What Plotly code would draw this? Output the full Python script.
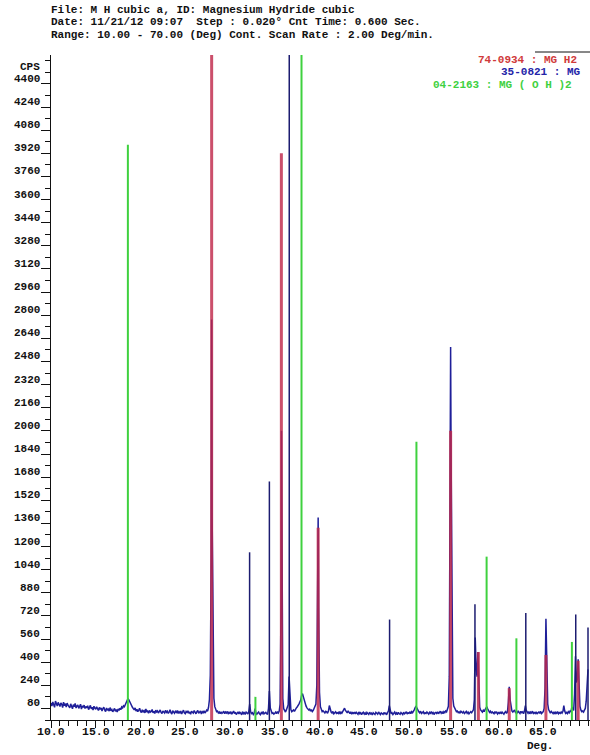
import plotly.graph_objects as go

# ---------------- measured scan (CPS), 10.0 - 70.0 deg, 0.1 deg grid ----------------
scan_start = 10.0
scan_step = 0.1
scan_cps = [
    118, 96, 125, 104, 88, 131, 110, 97, 122, 101,
    93, 119, 108, 86, 124, 99, 113, 90, 117, 102,
    95, 84, 112, 99, 78, 106, 92, 115, 83, 97,
    104, 80, 93, 109, 76, 98, 87, 103, 79, 94,
    85, 99, 72, 90, 101, 77, 88, 69, 95, 82,
    74, 91, 80, 66, 87, 73, 84, 62, 79, 88,
    70, 58, 83, 67, 75, 61, 86, 64, 72, 57,
    68, 80, 60, 73, 55, 77, 66, 82, 71, 90,
    84, 98, 92, 110, 118, 131, 149, 140, 126, 108,
    97, 88, 79, 70, 84, 62, 74, 58, 69, 81,
    60, 52, 71, 57, 64, 49, 76, 55, 62, 47,
    66, 54, 58, 73, 50, 61, 45, 68, 56, 63,
    48, 59, 70, 52, 44, 63, 57, 49, 67, 53,
    61, 46, 55, 71, 50, 42, 64, 58, 47, 60,
    53, 66, 45, 57, 49, 62, 41, 55, 68, 50,
    44, 59, 52, 63, 47, 56, 40, 61, 54, 48,
    65, 51, 43, 58, 66, 46, 55, 62, 42, 57,
    50, 63, 48, 56, 69, 61, 88, 140, 310, 1150,
    1420, 380, 150, 92, 70, 58, 62, 49, 55, 44,
    57, 46, 52, 61, 43, 55, 48, 59, 41, 53,
    47, 58, 40, 51, 62, 45, 54, 38, 49, 56,
    42, 53, 47, 36, 58, 44, 50, 39, 55, 46,
    41, 60, 110, 58, 45, 50, 38, 47, 78, 48,
    40, 49, 55, 43, 37, 51, 45, 58, 42, 48,
    53, 44, 39, 80, 200, 84, 58, 46, 50, 41,
    47, 55, 43, 58, 49, 62, 110, 820, 760, 150,
    78, 62, 55, 70, 84, 105, 300, 140, 72, 58,
    64, 70, 59, 75, 82, 90, 97, 110, 125, 138,
    170, 182, 160, 131, 112, 96, 84, 78, 69, 74,
    61, 72, 58, 66, 80, 88, 110, 240, 900, 780,
    190, 92, 70, 58, 64, 52, 49, 60, 57, 46,
    62, 100, 71, 55, 48, 59, 43, 52, 57, 46,
    50, 45, 58, 41, 54, 47, 62, 70, 82, 66,
    58, 49, 63, 52, 44, 57, 40, 51, 46, 55,
    42, 53, 47, 39, 56, 44, 50, 37, 48, 54,
    41, 49, 36, 52, 45, 39, 54, 43, 48, 35,
    50, 44, 38, 53, 46, 40, 55, 42, 37, 49,
    45, 39, 52, 43, 48, 36, 51, 62, 100, 58,
    44, 50, 38, 47, 55, 41, 49, 36, 53, 45,
    40, 52, 46, 38, 54, 43, 49, 57, 41, 50,
    47, 55, 44, 58, 51, 60, 72, 88, 95, 80,
    64, 57, 49, 61, 45, 53, 58, 42, 50, 46,
    55, 48, 41, 53, 47, 59, 44, 51, 38, 49,
    52, 45, 57, 43, 50, 61, 47, 55, 44, 58,
    51, 63, 57, 70, 95, 300, 1900, 1850, 420, 150,
    96, 78, 66, 58, 62, 51, 56, 47, 60, 53,
    49, 57, 45, 52, 60, 47, 55, 42, 51, 58,
    50, 62, 71, 140, 570, 360, 300, 470, 180, 88,
    70, 62, 55, 67, 58, 72, 80, 92, 76, 60,
    53, 61, 47, 56, 50, 44, 58, 49, 54, 42,
    51, 46, 57, 43, 55, 48, 40, 53, 59, 45,
    56, 120, 230, 140, 78, 62, 55, 60, 70, 52,
    58, 47, 64, 53, 45, 60, 51, 56, 44, 62,
    100, 66, 52, 47, 58, 43, 55, 49, 61, 46,
    52, 45, 57, 41, 50, 55, 46, 60, 44, 53,
    58, 80, 220, 700, 320, 110, 72, 55, 48, 60,
    50, 44, 57, 41, 53, 47, 58, 43, 51, 46,
    55, 48, 60, 100, 62, 46, 52, 44, 58, 50,
    62, 58, 90, 70, 66, 180, 440, 260, 280, 420,
    200, 95, 70, 58, 62, 55, 68, 80, 130, 240,
    350,
]

# peak maxima that fall between grid points
apex_2theta = [27.95, 35.75, 39.85, 54.65]
apex_cps = [2770, 2000, 1400, 2580]

# ---------------- reference patterns (stick positions / heights in CPS) ----------------
mgh2_2theta = [27.95, 35.74, 39.85, 54.65, 57.75, 61.20, 65.30, 68.90]
mgh2_cps = [4600, 3920, 1330, 2000, 470, 220, 450, 410]

mg_2theta = [32.19, 34.40, 36.62, 47.83, 57.37, 63.05, 68.63, 70.00]
mg_cps = [1160, 1650, 4600, 695, 800, 740, 730, 640]

brucite_2theta = [18.59, 32.84, 37.99, 50.83, 58.67, 62.00, 68.20]
brucite_cps = [3980, 160, 4600, 1925, 1130, 565, 540]

# ---------------- axis ticks ----------------
y_tick_values = list(range(80, 4401, 160))
y_tick_labels = [str(v) for v in y_tick_values]
x_tick_values = [10, 15, 20, 25, 30, 35, 40, 45, 50, 55, 60, 65]
x_tick_labels = ["10.0", "15.0", "20.0", "25.0", "30.0", "35.0",
                 "40.0", "45.0", "50.0", "55.0", "60.0", "65.0"]

header_lines = [
    "File: M H cubic a, ID: Magnesium Hydride cubic",
    "Date: 11/21/12 09:07  Step : 0.020\u00b0 Cnt Time: 0.600 Sec.",
    "Range: 10.00 - 70.00 (Deg) Cont. Scan Rate : 2.00 Deg/min.",
]
phase_labels = ["74-0934 : MG H2", "35-0821 : MG", "04-2163 : MG ( O H )2"]

# ---------------- styling ----------------
W, H = 590, 755
ML, MR, MT, MB = 51, 0, 55, 35
PW, PH = W - ML - MR, H - MT - MB
MONO = "Courier New, Liberation Mono, monospace"
INK = "#111111"
SCAN_COLOR = "#1f1f99"
RED = "rgba(192,40,74,0.82)"
NAVY = "#1c1c70"
GREEN = "#3fd13f"


def px_x(p):
    return (p - ML) / PW


def px_y(p):
    return (H - MB - p) / PH


# merge grid and apex points into one scan
scan_pts = [(scan_start + i * scan_step, c) for i, c in enumerate(scan_cps)]
scan_pts += list(zip(apex_2theta, apex_cps))
scan_pts.sort(key=lambda t: t[0])
scan_x = [round(p[0], 3) for p in scan_pts]
scan_y = [p[1] for p in scan_pts]


def sticks(xs, ys):
    sx, sy = [], []
    for x, y in zip(xs, ys):
        sx += [x, x, None]
        sy += [0, y, None]
    return sx, sy


fig = go.Figure()
fig.add_trace(go.Scatter(x=scan_x, y=scan_y, mode="lines",
                         line=dict(color=SCAN_COLOR, width=1.5), hoverinfo="skip"))

bx, by = sticks(brucite_2theta, brucite_cps)
fig.add_trace(go.Scatter(x=bx, y=by, mode="lines",
                         line=dict(color=GREEN, width=2), hoverinfo="skip"))
mx, my = sticks(mg_2theta, mg_cps)
fig.add_trace(go.Scatter(x=mx, y=my, mode="lines",
                         line=dict(color=NAVY, width=1.5), hoverinfo="skip"))
rx, ry = sticks(mgh2_2theta, mgh2_cps)
fig.add_trace(go.Scatter(x=rx, y=ry, mode="lines",
                         line=dict(color=RED, width=3), hoverinfo="skip"))

annotations = []
# y tick labels sit just above their tick marks
for v, t in zip(y_tick_values, y_tick_labels):
    annotations.append(dict(x=px_x(42), xref="paper", y=v, yref="y", yshift=5,
                            text=t, showarrow=False, xanchor="right", yanchor="middle",
                            font=dict(family=MONO, size=11, color=INK, weight="bold")))
annotations.append(dict(x=px_x(42), xref="paper", y=4480, yref="y", yshift=5,
                        text="CPS", showarrow=False, xanchor="right", yanchor="middle",
                        font=dict(family=MONO, size=11, color=INK, weight="bold")))
for v, t in zip(x_tick_values, x_tick_labels):
    annotations.append(dict(x=v, xref="x", y=px_y(731), yref="paper",
                            text=t, showarrow=False, xanchor="center", yanchor="middle",
                            font=dict(family=MONO, size=11.5, color=INK, weight="bold")))
annotations.append(dict(x=px_x(540), xref="paper", y=px_y(746), yref="paper",
                        text="Deg.", showarrow=False, xanchor="center", yanchor="middle",
                        font=dict(family=MONO, size=11, color=INK, weight="bold")))

for i, line in enumerate(header_lines):
    annotations.append(dict(x=px_x(50), xref="paper", y=px_y(9.5 + 12.5 * i), yref="paper",
                            text=line, showarrow=False, xanchor="left", yanchor="middle",
                            borderpad=0,
                            font=dict(family=MONO, size=11, color=INK, weight="bold")))

phase_colors = ["#d03a3a", "#2424a8", GREEN]
phase_x = [477, 500, 432]
for i, (lab, col, xp) in enumerate(zip(phase_labels, phase_colors, phase_x)):
    annotations.append(dict(x=px_x(xp), xref="paper", y=px_y(60 + 12.5 * i), yref="paper",
                            text=lab, showarrow=False, xanchor="left", yanchor="middle",
                            borderpad=0,
                            font=dict(family=MONO, size=11, color=col, weight="bold")))

fig.update_layout(
    width=W, height=H,
    margin=dict(l=ML, r=MR, t=MT, b=MB, pad=0),
    paper_bgcolor="white", plot_bgcolor="white",
    showlegend=False,
    annotations=annotations,
    shapes=[dict(type="line", xref="paper", yref="paper",
                 x0=px_x(535), x1=px_x(590), y0=px_y(52), y1=px_y(52),
                 line=dict(color=INK, width=1))],
    xaxis=dict(range=[10, 10 + PW / 8.95], showgrid=False, zeroline=False,
               showline=True, linecolor=INK, linewidth=1.2,
               tickmode="array", tickvals=x_tick_values, showticklabels=False,
               ticks="outside", ticklen=7, tickwidth=1.2, tickcolor=INK,
               minor=dict(dtick=1, tick0=10, ticks="outside", ticklen=5,
                          tickwidth=1, tickcolor=INK, showgrid=False)),
    yaxis=dict(range=[0, 4600], showgrid=False, zeroline=False,
               showline=True, linecolor=INK, linewidth=1.2,
               tickmode="array", tickvals=y_tick_values, showticklabels=False,
               ticks="outside", ticklen=9, tickwidth=1.2, tickcolor=INK,
               minor=dict(dtick=80, tick0=0, ticks="outside", ticklen=5,
                          tickwidth=1, tickcolor=INK, showgrid=False)),
)

fig.write_html("out.html")
